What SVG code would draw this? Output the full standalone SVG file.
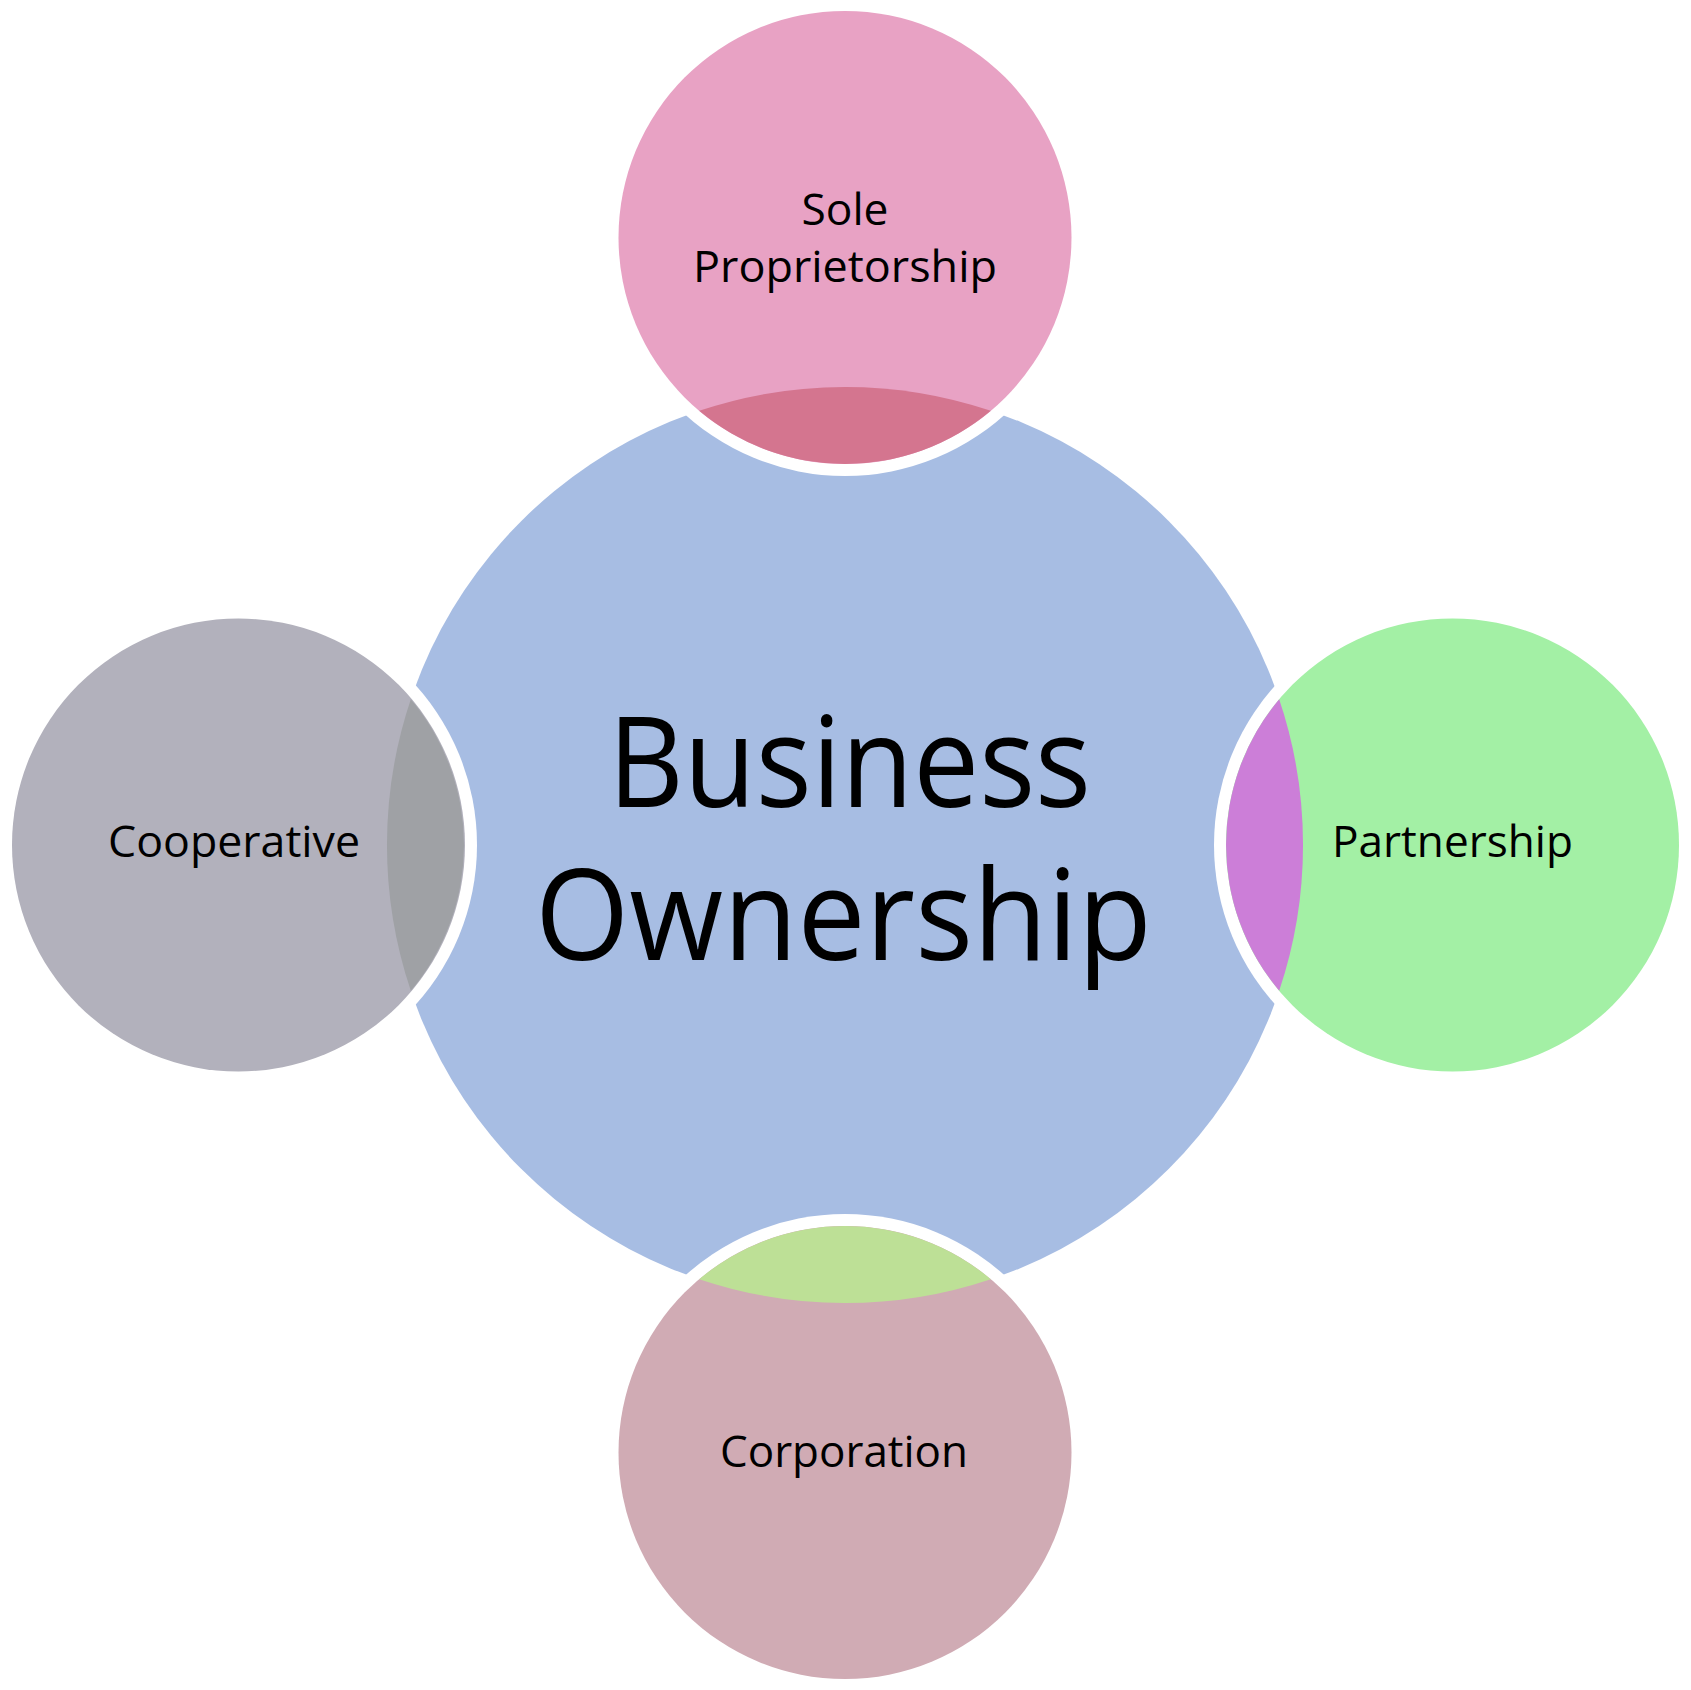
<svg xmlns="http://www.w3.org/2000/svg" width="1691" height="1690" viewBox="0 0 1691 1690">
  <defs>
    <style>
      .ring { fill: #ffffff; }
      .lbl { font-family: "Open Sans", "Liberation Sans", sans-serif; font-size: 43px; fill: #000000; text-anchor: middle; }
      .big { font-family: "Open Sans", "Liberation Sans", sans-serif; font-size: 126px; fill: #000000; text-anchor: middle; }
    </style>
    <path id="lens" d="M -145.8 -434.2 A 458 458 0 0 1 145.8 -434.2 A 226.5 226.5 0 0 1 -145.8 -434.2 Z"/>
  </defs>
  <rect x="0" y="0" width="1691" height="1690" fill="#ffffff"/>

  <g id="center">
    <circle cx="845" cy="845" r="458" fill="#A7BDE3"/>
  </g>

  <g id="sole-proprietorship">
    <circle class="ring" cx="845" cy="237.5" r="238.5"/>
    <circle cx="845" cy="237.5" r="226.5" fill="#E8A2C4"/>
    <use href="#lens" transform="translate(845 845)" fill="#D4758F"/>
    <text class="lbl" x="845" y="225" textLength="87" lengthAdjust="spacingAndGlyphs">Sole</text>
    <text class="lbl" x="845" y="282" textLength="304" lengthAdjust="spacingAndGlyphs">Proprietorship</text>
  </g>

  <g id="partnership">
    <circle class="ring" cx="1452.5" cy="845" r="238.5"/>
    <circle cx="1452.5" cy="845" r="226.5" fill="#A3F0A5"/>
    <use href="#lens" transform="translate(845 845) rotate(90)" fill="#CC7ED8"/>
    <text class="lbl" x="1452.5" y="857" textLength="241" lengthAdjust="spacingAndGlyphs">Partnership</text>
  </g>

  <g id="corporation">
    <circle class="ring" cx="845" cy="1452.5" r="238.5"/>
    <circle cx="845" cy="1452.5" r="226.5" fill="#D0ABB4"/>
    <use href="#lens" transform="translate(845 845) rotate(180)" fill="#BDE096"/>
    <text class="lbl" x="844" y="1467" textLength="248" lengthAdjust="spacingAndGlyphs">Corporation</text>
  </g>

  <g id="cooperative">
    <circle class="ring" cx="238.5" cy="845" r="238.5"/>
    <circle cx="238.5" cy="845" r="226.5" fill="#B2B1BC"/>
    <use href="#lens" transform="translate(845 845) rotate(270)" fill="#9FA1A5"/>
    <text class="lbl" x="234" y="857" textLength="252" lengthAdjust="spacingAndGlyphs">Cooperative</text>
  </g>

  <g id="center-label">
    <text class="big" x="849.5" y="807" textLength="483" lengthAdjust="spacingAndGlyphs">Business</text>
    <text class="big" x="843.5" y="960" textLength="617" lengthAdjust="spacingAndGlyphs">Ownership</text>
  </g>
</svg>
